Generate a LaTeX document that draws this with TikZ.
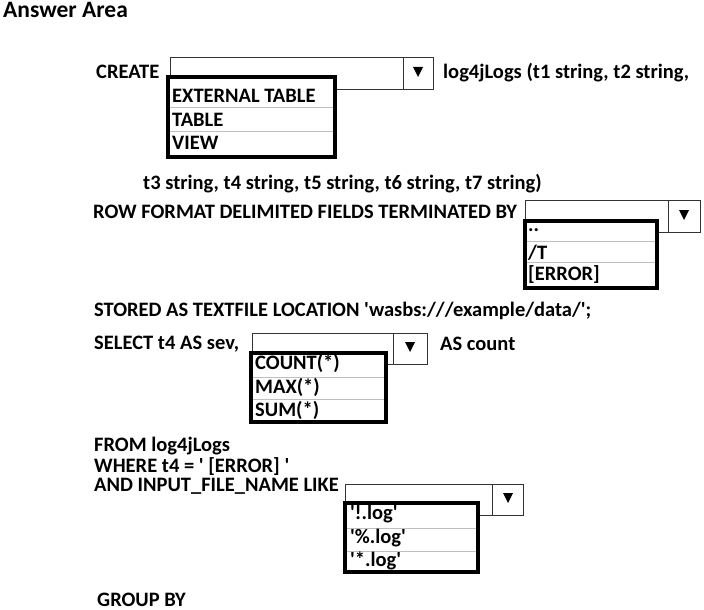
\documentclass[tikz,border=0pt]{standalone}
\usepackage{fontspec}
\setmainfont{Carlito}
\newcommand\sq{\textquotesingle}
\begin{document}
\begin{tikzpicture}[x=1pt,y=-1pt,
  txt/.style={inner sep=0pt,anchor=base west,font=\fontsize{20.5}{22}\selectfont\bfseries},
  ddbox/.style={draw=black!80,line width=0.9pt,fill=white},
  listbox/.style={draw=black,line width=3.2pt},
  sep/.style={draw=black!25,line width=0.8pt},
  tri/.style={fill=black}]
\useasboundingbox (0,0) rectangle (704,610);
\fill[white] (0,0) rectangle (704,610);
% title
\node[txt,font=\fontsize{23.5}{26}\selectfont\bfseries] (title) at (3,18) {Answer Area};
% line 1
\node[txt] (create) at (96,78) {CREATE};
\node[txt] (log) at (443,78) {log4jLogs (t1 string, t2 string,};
% dropdown 1
\draw[ddbox] (170,57) rectangle (433,89);
\draw[ddbox] (403,57) -- (403,89);
\fill[tri] (413,67) -- (423,67) -- (418,77) -- cycle;
\fill[white] (168,77) rectangle (335,157);
\draw[sep] (168,107) -- (335,107);
\draw[sep] (168,131) -- (335,131);
\draw[listbox] (168,77) rectangle (335,157);
\node[txt] (o11) at (172,102) {EXTERNAL TABLE};
\node[txt] (o12) at (172,126) {TABLE};
\node[txt] (o13) at (172,149) {VIEW};
% line 2
\node[txt] (t3) at (143,189) {t3 string, t4 string, t5 string, t6 string, t7 string)};
\node[txt] (row) at (93,218) {ROW FORMAT DELIMITED FIELDS TERMINATED BY};
% dropdown 2
\draw[ddbox] (525,200) rectangle (700,232);
\draw[ddbox] (668,200) -- (668,232);
\fill[tri] (679,210) -- (689,210) -- (684,220) -- cycle;
\fill[white] (525,221) rectangle (657,288);
\draw[sep] (525,241) -- (657,241);
\draw[sep] (525,262) -- (657,262);
\draw[listbox] (525,221) rectangle (657,288);
\node[txt] (o21) at (528,231) {..};
\node[txt] (o22) at (528,259) {/T};
\node[txt] (o23) at (528,280) {[ERROR]};
% line 3
\node[txt] (stored) at (94,316) {STORED AS TEXTFILE LOCATION \sq wasbs:///example/data/\sq;};
\node[txt] (select) at (94,349) {SELECT t4 AS sev,};
\node[txt] (ascount) at (440,350) {AS count};
% dropdown 3
\draw[ddbox] (252,333) rectangle (427,364);
\draw[ddbox] (393,333) -- (393,364);
\fill[tri] (405,342) -- (415,342) -- (410,352) -- cycle;
\fill[white] (251,353) rectangle (386,422);
\draw[sep] (251,377) -- (386,377);
\draw[sep] (251,399) -- (386,399);
\draw[listbox] (251,353) rectangle (386,422);
\node[txt] (o31) at (255,369) {COUNT(*)};
\node[txt] (o32) at (255,393) {MAX(*)};
\node[txt] (o33) at (255,416) {SUM(*)};
% line 4
\node[txt] (from) at (94,451) {FROM log4jLogs};
\node[txt] (where) at (94,472) {WHERE t4 = \sq\ [ERROR] \sq};
\node[txt] (and) at (94,491) {AND INPUT\_FILE\_NAME LIKE};
% dropdown 4
\draw[ddbox] (345,484) rectangle (523,515);
\draw[ddbox] (492,484) -- (492,515);
\fill[tri] (503,493) -- (513,493) -- (508,503) -- cycle;
\fill[white] (345,503) rectangle (478,572);
\draw[sep] (345,528) -- (478,528);
\draw[sep] (345,551) -- (478,551);
\draw[listbox] (345,503) rectangle (478,572);
\node[txt] (o41) at (350,519) {\sq!.log\sq};
\node[txt] (o42) at (350,543) {\sq\%.log\sq};
\node[txt] (o43) at (350,566) {\sq*.log\sq};
% group by
\node[txt] (group) at (97,606) {GROUP BY};
\end{tikzpicture}
\end{document}
